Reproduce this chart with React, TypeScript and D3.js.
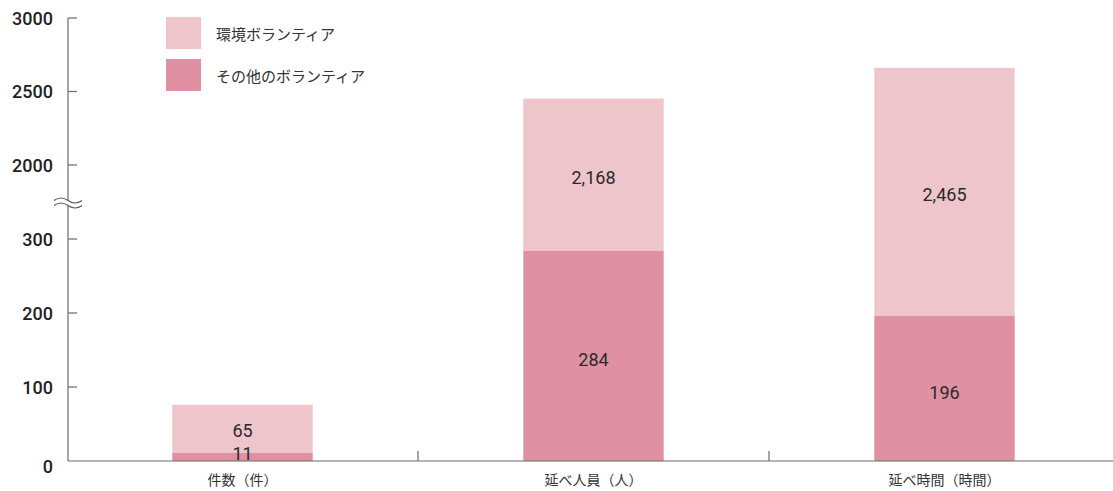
import React from 'react';
import * as d3 from 'd3';

// categories and series
const categories = ['件数（件）', '延べ人員（人）', '延べ時間（時間）'];
const otherValues = [11, 284, 196];
const envValues = [65, 2168, 2465];
const envLabels = ['65', '2,168', '2,465'];
const otherLabels = ['11', '284', '196'];
const yTicks = [0, 100, 200, 300, 2000, 2500, 3000];
const seriesNames = ['環境ボランティア', 'その他のボランティア'];

const W = 1113;
const H = 491;
const ENV_COLOR = '#eec5cb';
const OTHER_COLOR = '#df91a3';
const AXIS_COLOR = '#6b6b6b';
const NUM_FONT = 'Roboto, "DejaVu Sans", sans-serif';
const JP_FONT = '"Noto Sans CJK JP", "Noto Sans", sans-serif';

const App = () => {
  const axisX = 68;
  const baseY = 461;

  // broken axis: 0-300 then compressed gap then 2000-3000
  const y = d3.scaleLinear().domain([0, 300, 2000, 3000]).range([baseY, 239, 165, 18]);

  const x = d3.scaleBand<string>().domain(categories).range([67, 1120]).padding(0);
  const barW = x.bandwidth() * 0.4;

  const breakY = 203;
  const wave = (cy: number) =>
    `M${axisX - 14},${cy} q7,-5 14,0 t14,0`;

  return (
    <svg width={W} height={H} style={{ position: 'absolute', left: 0, top: 0, background: '#fff' }}>
      {/* bars */}
      {categories.map((c, i) => {
        const cx = (x(c) as number) + x.bandwidth() / 2;
        const yOther = y(otherValues[i]);
        const yTotal = y(otherValues[i] + envValues[i]);
        return (
          <g key={c}>
            <rect x={cx - barW / 2} y={yTotal} width={barW} height={yOther - yTotal} fill={ENV_COLOR} />
            <rect x={cx - barW / 2} y={yOther} width={barW} height={baseY - yOther} fill={OTHER_COLOR} />
            <text x={cx} y={i === 0 ? (yTotal + yOther) / 2 + 2 : (yTotal + yOther) / 2 + 3} textAnchor="middle" dominantBaseline="central"
              fontFamily={NUM_FONT} fontSize={18} fontWeight={400} fill="#2a2a2a">{envLabels[i]}</text>
            <text x={cx} y={i === 0 ? (yOther + baseY) / 2 - 3 : (yOther + baseY) / 2 + 4} textAnchor="middle" dominantBaseline="central"
              fontFamily={NUM_FONT} fontSize={18} fontWeight={400} fill="#2a2a2a">{otherLabels[i]}</text>
            <text x={cx} y={479} textAnchor="middle" dominantBaseline="central"
              fontFamily={JP_FONT} fontSize={14} fill="#333">{c}</text>
          </g>
        );
      })}

      {/* x axis */}
      <line x1={axisX} x2={W} y1={baseY} y2={baseY} stroke={AXIS_COLOR} strokeWidth={1.2} />
      {categories.slice(1).map((c) => (
        <line key={c} x1={x(c) as number} x2={x(c) as number} y1={baseY - 10} y2={baseY} stroke={AXIS_COLOR} strokeWidth={1.2} />
      ))}

      {/* y axis */}
      <line x1={axisX} x2={axisX} y1={y(3000)} y2={baseY} stroke={AXIS_COLOR} strokeWidth={1.2} />
      {yTicks.map((t) => (
        <g key={t}>
          {t !== 0 && <line x1={axisX} x2={axisX + 9} y1={y(t)} y2={y(t)} stroke={AXIS_COLOR} strokeWidth={1.2} />}
          <text x={53} y={t === 0 ? y(t) + 5 : y(t)} textAnchor="end" dominantBaseline="central"
            fontFamily={NUM_FONT} fontSize={18} fontWeight={500} fill="#222">{t}</text>
        </g>
      ))}

      {/* axis break */}
      <rect x={axisX - 14} y={breakY - 3} width={28} height={6} fill="#fff" />
      <path d={wave(breakY - 2.5)} fill="none" stroke="#555" strokeWidth={1.1} />
      <path d={wave(breakY + 2.5)} fill="none" stroke="#555" strokeWidth={1.1} />

      {/* legend */}
      {seriesNames.map((s, i) => (
        <g key={s} transform={`translate(166, ${17 + i * 42})`}>
          <rect width={35} height={32} fill={i === 0 ? ENV_COLOR : OTHER_COLOR} />
          <text x={50} y={16} dominantBaseline="central" fontFamily={JP_FONT} fontSize={15} fill="#333">{s}</text>
        </g>
      ))}
    </svg>
  );
};

export default App;
